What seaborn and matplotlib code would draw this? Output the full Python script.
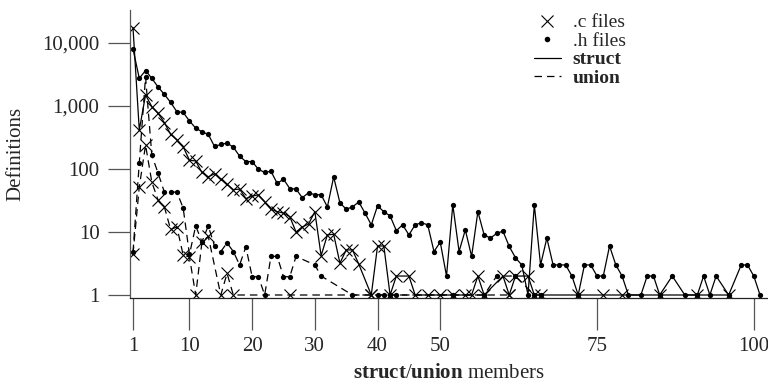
import numpy as np
import pandas as pd
import matplotlib
matplotlib.use("Agg")
import matplotlib.pyplot as plt
from matplotlib.lines import Line2D
from matplotlib.ticker import NullLocator
import seaborn as sns

nan = np.nan

# number of members, 1..101
members = list(range(1, 102))

# struct definitions found in .h files
struct_h = [8000, 2750, 3650, 2750, 2000, 1530, 1140, 810, 790, 580,
            445, 390, 355, 228, 245, 258, 222, 160, 131, 131,
            99, 88, 92, 59, 69, 49, 48, 35, 42, 39,
            39, 25, 75, 29, 23, 25, 30, 20, 13, 26,
            21, 18, 10.5, 13, 9, 13, 14, 13, 4.9, 6.9,
            2, 27, 4.9, 10.8, 4.1, 21, 9, 8, 9.5, 10.3,
            5.9, 3.9, 3, 1, 27, 3, 8, 3, 3, 3,
            2, 1, 3, 3, 2, 2, 6, 3, 2, 1,
            nan, 1, 2, 2, 1, nan, 2, nan, 1, nan,
            1, 2, 1, 2, nan, 1, nan, 3, 3, 2,
            1]

# struct definitions found in .c files
struct_c = [17500, 415, 1500, 975, 765, 545, 355, 290, 225, 138,
            134, 88, 75, 84, 69, 57, 47, 48, 34, 37,
            39, 30, 23, 21, 20, 17.5, 10, 12, 13.4, 21,
            4.2, 9, 9.2, 3.2, 5.2, 5.2, 3.1, nan, 1, 6,
            6, 1, 2, nan, 2, 1, nan, 1, nan, 1,
            nan, 1, nan, 1, 1, 2, 1, nan, nan, 2,
            1, 2, nan, 2, 1, 1, nan, nan, nan, nan,
            nan, 1, nan, nan, nan, 1, nan, nan, 1, nan,
            nan, nan, nan, nan, 1, nan, nan, nan, nan, nan,
            1, nan, nan, nan, nan, 1, nan, nan, nan, nan,
            nan]

# union definitions found in .h files
union_h = [4.8, 125, 2900, 165, 86, 43, 43, 43, 24, 4.4,
           12.5, 7, 12.5, 6, 4.9, 6.7, 4.9, 3, 5.8, 1.95,
           1.95, 1, 4.1, 4.1, 1.95, 1.95, 4.1, nan, nan, 3,
           2, nan, nan, nan, nan, 1, nan, nan, nan, 1,
           1, 1, 1, nan, nan, nan, nan, nan, nan, nan,
           nan, 1, nan, nan, nan, nan, 1, nan, 2, nan,
           nan, 2, nan, nan, 1, 1] + [nan] * 35

# union definitions found in .c files
union_c = [4.5, 52, 240, 62, 32, 25, 11, 12, 4.3, 4,
           1, 7, 8.5, nan, 1, 2.2, 1, nan, nan, nan,
           nan, nan, nan, nan, nan, 1, nan, nan, nan, nan,
           nan, nan, nan, nan, nan, nan, nan, nan, 1, nan,
           nan, nan, nan, nan, nan, nan, nan, nan, nan, nan,
           nan, nan, nan, nan, nan, nan, nan, nan, nan, nan,
           1] + [nan] * 40

x_ticks = [1, 10, 20, 30, 40, 50, 75, 100]
y_ticks = [1, 10, 100, 1000, 10000]
y_tick_labels = ["1", "10", "100", "1,000", "10,000"]

sns.set_theme(style="ticks")
plt.rcParams["font.family"] = ["Liberation Serif", "DejaVu Serif"]
plt.rcParams["mathtext.fontset"] = "custom"
plt.rcParams["mathtext.rm"] = "Liberation Serif"
plt.rcParams["mathtext.bf"] = "Liberation Serif:bold"

fig = plt.figure(figsize=(7.68, 3.83), dpi=100)
ax = fig.add_axes([130 / 768, 85 / 383, 638 / 768, 288 / 383])

series = [
    (struct_c, "x", "-"),
    (struct_h, "o", "-"),
    (union_c, "x", (0, (6, 4))),
    (union_h, "o", (0, (6, 4))),
]
for vals, mk, ls in series:
    df = pd.DataFrame({"members": members, "defs": vals}).dropna()
    if mk == "x":
        mkw = dict(marker="x", markersize=8.5, markeredgewidth=0.8,
                   markeredgecolor="black")
    else:
        mkw = dict(marker="o", markersize=3.8, markeredgewidth=0,
                   markerfacecolor="black", markeredgecolor="black")
    sns.lineplot(data=df, x="members", y="defs", ax=ax, color="black",
                 linewidth=0.9, linestyle=ls, estimator=None, **mkw)

ax.set_yscale("log")
ax.set_xlim(0.52, 102.27)
ax.set_ylim(0.896, 33400)
ax.set_yticks(y_ticks, labels=y_tick_labels)
ax.yaxis.set_minor_locator(NullLocator())
ax.set_xticks(x_ticks)
ax.tick_params(axis="y", direction="out", length=16, width=0.9,
               color="#555555", labelsize=15, pad=6)
ax.tick_params(axis="x", direction="out", length=23, width=0.9,
               color="#555555", labelsize=15, pad=5)
for s in ["top", "right"]:
    ax.spines[s].set_visible(False)
ax.spines["left"].set_color("#555555")
ax.spines["bottom"].set_color("#222222")
ax.spines["left"].set_linewidth(0.9)
ax.spines["bottom"].set_linewidth(0.9)

ax.set_xlabel(r"$\mathbf{struct}$/$\mathbf{union}$ members", fontsize=15,
              labelpad=6)
ax.set_ylabel("Definitions", fontsize=15, labelpad=12)

handles = [
    Line2D([], [], ls="none", marker="x", color="black", ms=8, mew=0.8),
    Line2D([], [], ls="none", marker="o", color="black", ms=4, mew=0),
    Line2D([], [], ls="-", color="black", lw=0.9),
    Line2D([], [], ls=(0, (6, 4)), color="black", lw=0.9),
]
leg = ax.legend(handles, [".c files", ".h files", "struct", "union"],
                loc="upper left", bbox_to_anchor=(524 / 768, 1 - 4 / 383),
                bbox_transform=fig.transFigure, frameon=False, fontsize=14,
                handlelength=1.4, handletextpad=0.6, labelspacing=0.05,
                borderpad=0)
for t in leg.get_texts()[2:]:
    t.set_fontweight("bold")

fig.savefig("out.png", dpi=100)
